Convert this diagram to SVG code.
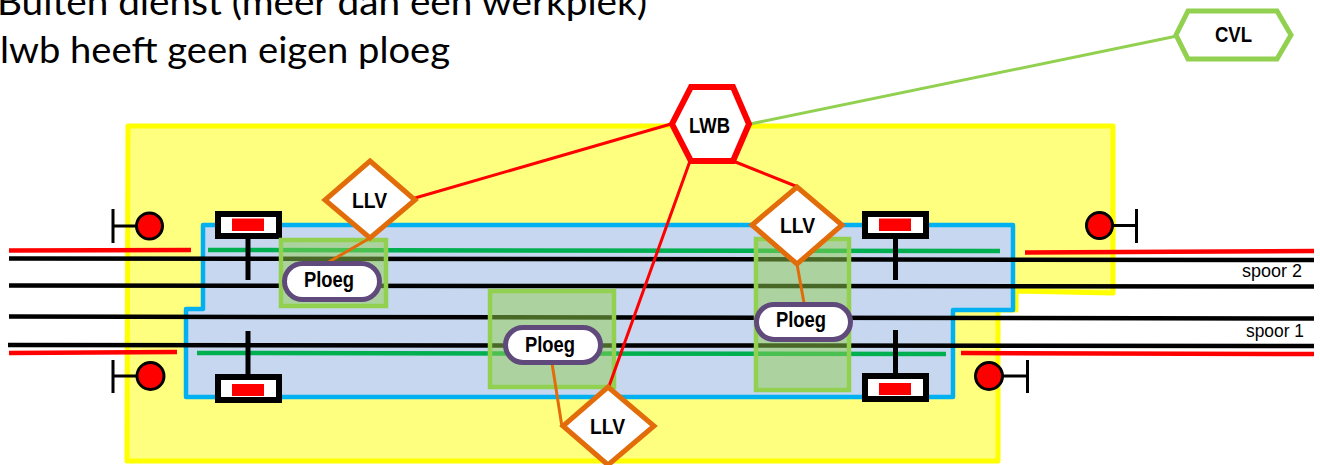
<svg xmlns="http://www.w3.org/2000/svg" width="1320" height="465" viewBox="0 0 1320 465">
<style>
text{font-family:"Liberation Sans",Arial,sans-serif;fill:#000}
.h{font-family:Lato,"Liberation Sans",sans-serif;font-size:36px}
.l{font-size:22px;font-weight:bold}
.s{font-size:17.500px}
.t{stroke:#000;stroke-width:4.500;fill:none}
.r{stroke:#f00;stroke-width:4.500;fill:none}
.g{stroke:#00b050;stroke-width:4.500;fill:none}
.w{fill:#92d050;fill-opacity:.5;stroke:#92d050;stroke-width:4.500}
.d{fill:#fff;stroke:#e36c0a;stroke-width:5}
.p{fill:#fff;stroke:#604a7b;stroke-width:5}
.c{stroke:#e36c0a;stroke-width:3;fill:none}
.lr{stroke:#f00;stroke-width:3;fill:none}
.sig{fill:#f00;stroke:#000;stroke-width:3}
.k{stroke:#000;stroke-width:3;fill:none}
.m{stroke:#000;stroke-width:5;fill:none}
.b{fill:#fff;stroke:#000;stroke-width:6}
</style>
<g id="title"><text class="h" x="-3" y="15" textLength="650" lengthAdjust="spacingAndGlyphs">Buiten dienst (meer dan een werkplek)</text><text class="h" x="0" y="63" textLength="450" lengthAdjust="spacingAndGlyphs">lwb heeft geen eigen ploeg</text></g>
<g id="zones">
<path d="M128 126H1113V293L1016 291V310H998V461H127Z" fill="#ffff7f" stroke="#ff0" stroke-width="5" stroke-linejoin="round"/>
<path d="M203 225H1013V310H953V397H186V309H203Z" fill="#c6d7ef" stroke="#00b0f0" stroke-width="4.500" stroke-linejoin="round"/>
</g>
<g id="tracks">
<path class="t" d="M9 258.500L1314 260M9 285.500L1314 286.500M9 316.500L1314 318.500M8 345L1314 346"/>
<path class="r" d="M9 250.500L191 250M9 353L177 352M1025 252.500L1314 251M961 353L1314 354"/>
<path class="g" d="M208 250L1000 251M197 353L946 354"/>
<text class="s" x="1242" y="277" textLength="60" lengthAdjust="spacingAndGlyphs">spoor 2</text><text class="s" x="1246" y="337" textLength="58" lengthAdjust="spacingAndGlyphs">spoor 1</text>
</g>
<g id="signal-nw"><path class="k" d="M113 209V243M113 226H137"/><circle class="sig" cx="149.500" cy="226" r="13"/></g>
<g id="signal-sw"><path class="k" d="M113 360V393M113 376H137"/><circle class="sig" cx="150.500" cy="376" r="13.500"/></g>
<g id="signal-ne"><path class="k" d="M1136.500 209V243M1113 225.500H1136"/><circle class="sig" cx="1099.500" cy="225.500" r="13"/></g>
<g id="signal-se"><path class="k" d="M1027.500 360V393M1003 376H1027"/><circle class="sig" cx="989" cy="376" r="13.500"/></g>
<g id="barrier-nw"><path class="m" d="M248 237V280"/><rect class="b" x="218" y="214" width="61" height="22"/><rect x="232" y="218.500" width="32" height="12.500" fill="#f00"/></g>
<g id="barrier-sw"><path class="m" d="M248 331V376"/><rect class="b" x="218" y="377" width="61" height="23"/><rect x="232" y="384" width="32" height="12" fill="#f00"/></g>
<g id="barrier-ne"><path class="m" d="M895.500 237V280"/><rect class="b" x="865" y="214" width="61" height="22"/><rect x="879" y="218.500" width="32" height="12.500" fill="#f00"/></g>
<g id="barrier-se"><path class="m" d="M895.500 330V376"/><rect class="b" x="865" y="376" width="61" height="23"/><rect x="879" y="383" width="32" height="12" fill="#f00"/></g>
<g id="work-1"><rect class="w" x="281" y="240" width="105" height="66"/></g>
<g id="work-2"><rect class="w" x="490" y="291" width="124" height="96"/></g>
<g id="work-3"><rect class="w" x="756" y="239" width="93" height="151"/></g>
<g id="connectors">
<path class="lr" d="M415 198L671 124M690 161L608 389M733 161L798 187"/>
<path d="M750 124L1177 36" stroke="#92d050" stroke-width="3" fill="none"/>
<path class="c" d="M370 238L327 263M552 363L562 427M797 264L804 303"/>
</g>
<g id="node-lwb"><path d="M691 87H733L749 124L733 161H691L672 124Z" fill="#fff" stroke="#f00" stroke-width="6"/><text class="l" x="689" y="133" textLength="41" lengthAdjust="spacingAndGlyphs">LWB</text></g>
<g id="node-cvl"><path d="M1188 11H1277L1291 35L1277 59H1188L1176 35Z" fill="#fff" stroke="#92d050" stroke-width="5"/><text class="l" x="1215" y="42" textLength="37" lengthAdjust="spacingAndGlyphs">CVL</text></g>
<g id="node-llv1"><path class="d" d="M370 161L415 200L370 238L325 200Z"/><text class="l" x="352" y="208" textLength="35" lengthAdjust="spacingAndGlyphs">LLV</text></g>
<g id="node-llv2"><path class="d" d="M797 187L842 225L797 264L752 225Z"/><text class="l" x="780" y="233" textLength="35" lengthAdjust="spacingAndGlyphs">LLV</text></g>
<g id="node-llv3"><path class="d" d="M608 387L654 426L608 465L563 426Z"/><text class="l" x="590" y="434" textLength="35" lengthAdjust="spacingAndGlyphs">LLV</text></g>
<g id="node-ploeg1"><rect class="p" x="284.500" y="263.500" width="95" height="36" rx="18"/><text class="l" x="304" y="287" textLength="50" lengthAdjust="spacingAndGlyphs">Ploeg</text></g>
<g id="node-ploeg2"><rect class="p" x="505.500" y="327.500" width="95" height="35" rx="17.500"/><text class="l" x="525" y="352" textLength="50" lengthAdjust="spacingAndGlyphs">Ploeg</text></g>
<g id="node-ploeg3"><rect class="p" x="756.500" y="304.500" width="94" height="35" rx="17.500"/><text class="l" x="776" y="327" textLength="50" lengthAdjust="spacingAndGlyphs">Ploeg</text></g>
</svg>
